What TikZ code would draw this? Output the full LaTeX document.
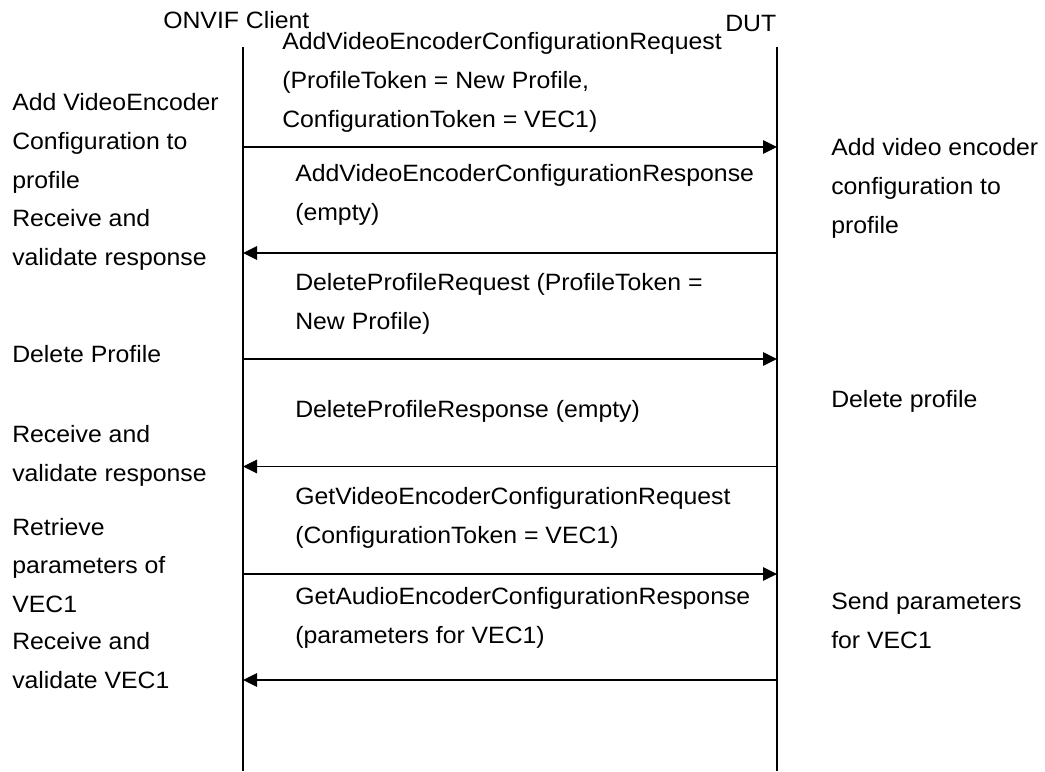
\documentclass[tikz,border=0pt]{standalone}
\usepackage{fontspec}
\setmainfont{Liberation Sans}[FakeStretch=1.05]
\usetikzlibrary{arrows.meta}

\begin{document}
\begin{tikzpicture}[
  x=0.025cm, y=-0.025cm,
  note/.style={font=\fontsize{16.8}{27.7}\selectfont, align=left, anchor=west, inner sep=0pt},
  lifeline/.style={line width=1pt},
  msg/.style={-{Triangle[length=0.35cm, width=0.34cm]}, line width=0.9pt}
]
\useasboundingbox (0,0) rectangle (1045,771);

% Lifelines
\coordinate (client) at (243,47);
\coordinate (clientend) at (243,771);
\coordinate (dut) at (777,47);
\coordinate (dutend) at (777,771);
\draw[lifeline] (client) -- (clientend);
\draw[lifeline] (dut) -- (dutend);

% Headers
\node[note] (clientname) at (163,20) {ONVIF Client};
\node[note] (dutname) at (725,23.5) {DUT};

% Messages
\node[note] (addreq) at (282,82) {AddVideoEncoderConfigurationRequest\\(ProfileToken = New Profile,\\ConfigurationToken = VEC1)};
\draw[msg] (client |- 0,147) -- (dut |- 0,147);
\node[note] (addresp) at (295,195) {AddVideoEncoderConfigurationResponse\\(empty)};
\draw[msg] (dut |- 0,253) -- (client |- 0,253);
\node[note] (delreq) at (295,304) {DeleteProfileRequest (ProfileToken =\\New Profile)};
\draw[msg] (client |- 0,359) -- (dut |- 0,359);
\node[note] (delresp) at (295,411.5) {DeleteProfileResponse (empty)};
\draw[msg] (dut |- 0,466.5) -- (client |- 0,466.5);
\node[note] (getreq) at (295,517.5) {GetVideoEncoderConfigurationRequest\\(ConfigurationToken = VEC1)};
\draw[msg] (client |- 0,574) -- (dut |- 0,574);
\node[note] (getresp) at (295,617.5) {GetAudioEncoderConfigurationResponse\\(parameters for VEC1)};
\draw[msg] (dut |- 0,680) -- (client |- 0,680);

% Client side notes
\node[note] (cadd) at (12,143.5) {Add VideoEncoder\\Configuration to\\profile};
\node[note] (crecv1) at (12,239.5) {Receive and\\validate response};
\node[note] (cdel) at (12,354) {Delete Profile};
\node[note] (crecv2) at (12,456) {Receive and\\validate response};
\node[note] (cget) at (12,565.5) {Retrieve\\parameters of\\VEC1};
\node[note] (crecv3) at (12,661) {Receive and\\validate VEC1};

% DUT side notes
\node[note] (dadd) at (831,188) {Add video encoder\\configuration to\\profile};
\node[note] (ddel) at (831,401.5) {Delete profile};
\node[note] (dsend) at (831,621) {Send parameters\\for VEC1};

\end{tikzpicture}
\end{document}
